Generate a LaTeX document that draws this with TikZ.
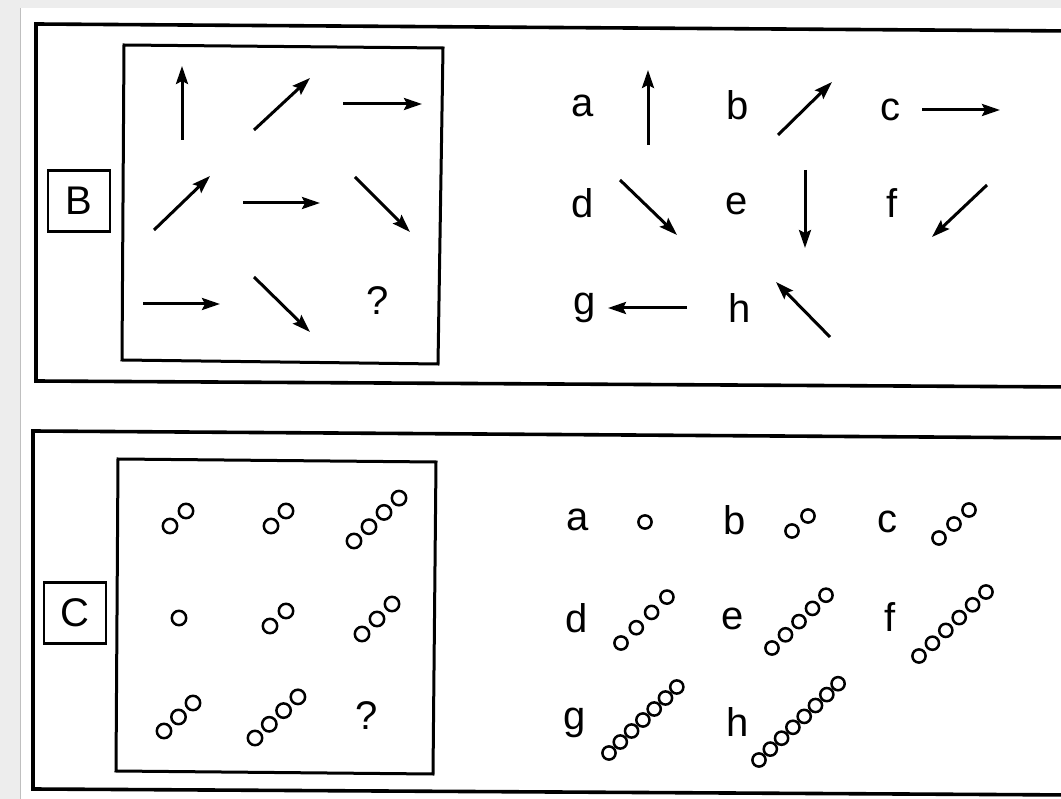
\documentclass[tikz,border=0pt]{standalone}
\usepackage{fontspec}
\setmainfont{Liberation Sans}
\usetikzlibrary{arrows.meta}
\newcommand{\circchain}[6]{%
  \foreach \i in {1,...,#5}{\draw[ring] ({#1+(\i-1)*(#3)},{#2+(\i-1)*(#4)}) circle[radius=#6];}}
\begin{document}
\begin{tikzpicture}[x=1pt,y=-1pt,
  frame/.style={line width=3.6pt,line join=miter},
  inner/.style={line width=3pt,line join=miter},
  tag/.style={draw,line width=2.2pt,minimum width=62pt,minimum height=61pt,inner sep=0pt,font=\fontsize{40}{44}\selectfont},
  lbl/.style={inner sep=0pt,font=\fontsize{40}{44}\selectfont},
  arr/.style={line width=3pt,-{Stealth[length=18pt,width=12pt,inset=3pt]}},
  ring/.style={line width=2.5pt}]
\useasboundingbox (0,0) rectangle (1061,799);
% background
\fill[black!7] (0,0) rectangle (1061,799);
\fill[white] (20,8) rectangle (1061,799);
\draw[black!25,line width=0.8pt] (20,8) -- (20,799);
% ---------- panel B ----------
\draw[frame] (1075,31) -- (36,24) -- (36,381) -- (1075,387);
\draw[inner] (124,45) -- (443,48) -- (438,364) -- (122,360) -- cycle;
\node[tag] (tagB) at (79,201) {B};
% matrix arrows
\draw[arr] (182,140) -- (182,66);
\draw[arr] (254,130) -- (310,78);
\draw[arr] (343,104) -- (422,104);
\draw[arr] (154,230) -- (210,176);
\draw[arr] (243,203) -- (320,203);
\draw[arr] (355,177) -- (410,232);
\draw[arr] (143,304) -- (220,304);
\draw[arr] (254,277) -- (310,332);
\node[lbl] (qB) at (378,301) {?};
% options
\node[lbl] (Ba) at (583,106) {a};
\node[lbl] (Bb) at (738,105) {b};
\node[lbl] (Bc) at (890,110) {c};
\node[lbl] (Bd) at (583,203) {d};
\node[lbl] (Be) at (737,204) {e};
\node[lbl] (Bf) at (892,203) {f};
\node[lbl] (Bg) at (585,308) {g};
\node[lbl] (Bh) at (740,308) {h};
\draw[arr] (648,145) -- (648,70);
\draw[arr] (778,135) -- (832,82);
\draw[arr] (922,110) -- (1000,110);
\draw[arr] (620,180) -- (677,235);
\draw[arr] (805,170) -- (805,248);
\draw[arr] (987,185) -- (932,237);
\draw[arr] (687,308) -- (608,308);
\draw[arr] (830,337) -- (776,282);
% ---------- panel C ----------
\draw[frame] (1075,438) -- (33,431) -- (33,789) -- (1075,795);
\draw[inner] (118,459) -- (436,462) -- (433,774) -- (116,771) -- cycle;
\node[tag] (tagC) at (75,613) {C};
% matrix circles
\circchain{170}{526}{16}{-15}{2}{7.2}
\circchain{271}{526}{15}{-15}{2}{7.2}
\circchain{354}{541}{15}{-14.3}{4}{7.2}
\circchain{179}{618}{15}{-15}{1}{7.2}
\circchain{270}{626}{16}{-15}{2}{7.2}
\circchain{362}{634}{15}{-15}{3}{7.2}
\circchain{164}{731}{14.5}{-14}{3}{7.2}
\circchain{255}{738}{14.3}{-13.7}{4}{7.2}
\node[lbl] (qC) at (367,716) {?};
% options
\node[lbl] (Ca) at (578,520) {a};
\node[lbl] (Cb) at (735,520) {b};
\node[lbl] (Cc) at (887,522) {c};
\node[lbl] (Cd) at (577,618) {d};
\node[lbl] (Ce) at (733,619) {e};
\node[lbl] (Cf) at (890,617) {f};
\node[lbl] (Cg) at (575,723) {g};
\node[lbl] (Ch) at (738,722) {h};
\circchain{645}{522}{15}{-15}{1}{6.6}
\circchain{792}{531}{16}{-15}{2}{6.6}
\circchain{939}{538}{15}{-14}{3}{6.6}
\circchain{621}{643}{15.3}{-15.3}{4}{6.6}
\circchain{772}{648}{13.5}{-13.2}{5}{6.6}
\circchain{919}{656}{13.4}{-12.8}{6}{6.6}
\circchain{609}{753}{11.3}{-11}{7}{6.6}
\circchain{759}{760}{11.3}{-10.9}{8}{6.6}
\end{tikzpicture}
\end{document}
